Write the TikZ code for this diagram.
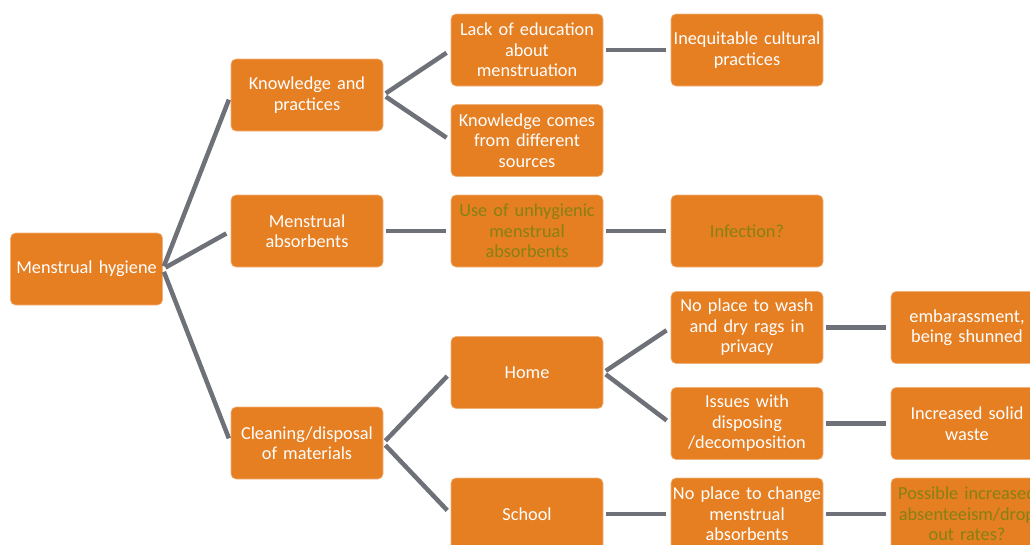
\documentclass[tikz,border=0pt]{standalone}
\usepackage{fontspec}
\setmainfont{Carlito}
\definecolor{boxorange}{RGB}{230,126,34}
\definecolor{olivetext}{RGB}{132,130,18}
\definecolor{conngray}{RGB}{110,114,120}
\begin{document}
\begin{tikzpicture}[x=1pt,y=-1pt,
  box/.style={draw=boxorange!60!white, line width=0.6pt, fill=boxorange, rounded corners=5pt,
    minimum width=152pt, minimum height=72pt, inner sep=0pt, text width=152pt, align=center,
    text=white, font=\fontsize{18.3}{20.5}\selectfont},
  oltext/.style={text=olivetext},
  conn/.style={draw=conngray, line width=4.5pt, shorten <=3pt, shorten >=5pt}]
\useasboundingbox (0,0) rectangle (1030,544);
\clip (0,0) rectangle (1030,544);
\node[box] (root) at (86.5,269) {Menstrual hygiene};
\node[box] (kp) at (307,95) {Knowledge and\\practices};
\node[box] (ma) at (307,231) {Menstrual\\absorbents};
\node[box] (cd) at (307,443) {Cleaning/disposal\\of materials};
\node[box] (lack) at (527,50) {Lack of education\\about\\menstruation};
\node[box] (kc) at (527,140.5) {Knowledge comes\\from different\\sources};
\node[box,oltext] (use) at (527,231) {Use of unhygienic\\menstrual\\absorbents};
\node[box] (home) at (527,372.5) {Home};
\node[box] (school) at (527,514) {School};
\node[box] (ineq) at (747,50) {Inequitable cultural\\practices};
\node[box,oltext] (inf) at (747,231) {Infection?};
\node[box] (wash) at (747,327.5) {No place to wash\\and dry rags in\\privacy};
\node[box] (issues) at (747,423.5) {Issues with\\disposing\\/decomposition};
\node[box] (change) at (747,514) {No place to change\\menstrual\\absorbents};
\node[box] (emb) at (967,327.5) {embarassment,\\being shunned};
\node[box] (waste) at (967,423.5) {Increased solid\\waste};
\node[box,oltext] (poss) at (967,514) {Possible increased\\absenteeism/drop\\out rates?};
\draw[conn] (root.east) -- (kp.west);
\draw[conn] (root.east) -- (ma.west);
\draw[conn] (root.east) -- (cd.west);
\draw[conn] (kp.east) -- (lack.west);
\draw[conn] (kp.east) -- (kc.west);
\draw[conn] (ma.east) -- (use.west);
\draw[conn] (cd.east) -- (home.west);
\draw[conn] (cd.east) -- (school.west);
\draw[conn] (lack.east) -- (ineq.west);
\draw[conn] (use.east) -- (inf.west);
\draw[conn] (home.east) -- (wash.west);
\draw[conn] (home.east) -- (issues.west);
\draw[conn] (school.east) -- (change.west);
\draw[conn] (wash.east) -- (emb.west);
\draw[conn] (issues.east) -- (waste.west);
\draw[conn] (change.east) -- (poss.west);
\end{tikzpicture}
\end{document}
